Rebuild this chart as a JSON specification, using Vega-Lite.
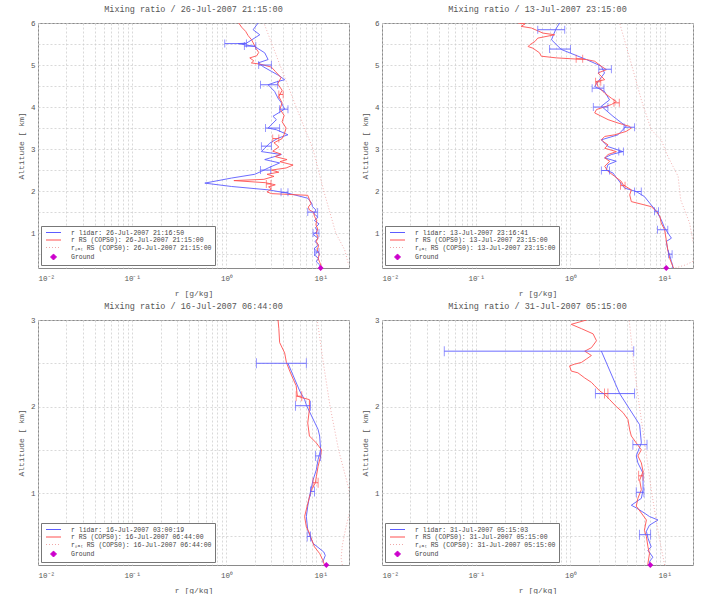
{
"$schema": "https://vega.github.io/schema/vega-lite/v6.json",
"background": "white",
"padding": {"left": 16, "top": 4, "right": 5, "bottom": 2},
"columns": 2,
"spacing": {"row": 3, "column": 10},
"resolve": {"scale": {"color": "independent"}, "legend": {"color": "independent"}},
"config": {
 "font": "Liberation Mono",
 "view": {"stroke": "#8a8a8a"},
 "title": {"font": "Liberation Mono", "fontSize": 8.5, "fontWeight": "normal", "color": "#555", "offset": 6},
 "axis": {"labelFont": "Liberation Mono", "titleFont": "Liberation Mono", "labelFontSize": 7.5, "titleFontSize": 8, "titleFontWeight": "normal", "labelColor": "#555", "titleColor": "#555", "domain": false, "ticks": false, "gridColor": "#cfcfcf", "gridDash": [2, 2], "gridWidth": 0.8, "labelOverlap": false},
 "axisX": {"titlePadding": 8, "labelPadding": 6},
 "axisY": {"titlePadding": 5, "labelPadding": 3},
 "legend": {"labelFont": "Liberation Mono", "labelFontSize": 6.5, "labelColor": "#444", "symbolType": "stroke", "symbolSize": 36, "symbolStrokeWidth": 1, "rowPadding": 0.5, "padding": 3, "strokeColor": "#777", "fillColor": "white", "labelLimit": 300, "offset": 3, "labelOffset": 14, "symbolOffset": 6}
},
"datasets": {
 "prof": [
  {"p":1,"s":"L","alt":0.17,"r":10.0},{"p":1,"s":"L","alt":0.25,"r":9.7},{"p":1,"s":"L","alt":0.32,"r":9.0},{"p":1,"s":"L","alt":0.40,"r":9.5},{"p":1,"s":"L","alt":0.48,"r":8.6},{"p":1,"s":"L","alt":0.55,"r":9.3},{"p":1,"s":"L","alt":0.63,"r":8.5},{"p":1,"s":"L","alt":0.72,"r":9.5},{"p":1,"s":"L","alt":0.80,"r":8.7},{"p":1,"s":"L","alt":0.88,"r":9.4},{"p":1,"s":"L","alt":0.96,"r":8.4},{"p":1,"s":"L","alt":1.05,"r":9.2},{"p":1,"s":"L","alt":1.13,"r":8.8},{"p":1,"s":"L","alt":1.22,"r":9.6},{"p":1,"s":"L","alt":1.30,"r":8.6},{"p":1,"s":"L","alt":1.38,"r":9.4},{"p":1,"s":"L","alt":1.46,"r":8.5},{"p":1,"s":"L","alt":1.55,"r":8.9},{"p":1,"s":"L","alt":1.63,"r":8.2},{"p":1,"s":"L","alt":1.72,"r":8.0},{"p":1,"s":"L","alt":1.83,"r":7.3},{"p":1,"s":"L","alt":1.95,"r":4.5},{"p":1,"s":"L","alt":2.03,"r":2.77},{"p":1,"s":"L","alt":2.11,"r":1.13},{"p":1,"s":"L","alt":2.19,"r":0.59},{"p":1,"s":"L","alt":2.31,"r":1.13},{"p":1,"s":"L","alt":2.40,"r":2.0},{"p":1,"s":"L","alt":2.47,"r":2.35},{"p":1,"s":"L","alt":2.55,"r":2.77},{"p":1,"s":"L","alt":2.67,"r":3.67},{"p":1,"s":"L","alt":2.75,"r":2.55},{"p":1,"s":"L","alt":2.87,"r":3.83},{"p":1,"s":"L","alt":2.94,"r":2.35},{"p":1,"s":"L","alt":3.02,"r":2.55},{"p":1,"s":"L","alt":3.14,"r":2.88},{"p":1,"s":"L","alt":3.26,"r":3.53},{"p":1,"s":"L","alt":3.34,"r":4.5},{"p":1,"s":"L","alt":3.46,"r":3.39},{"p":1,"s":"L","alt":3.50,"r":2.77},{"p":1,"s":"L","alt":3.70,"r":3.39},{"p":1,"s":"L","alt":3.78,"r":3.12},{"p":1,"s":"L","alt":3.95,"r":4.15},{"p":1,"s":"L","alt":4.10,"r":3.83},{"p":1,"s":"L","alt":4.21,"r":3.53},{"p":1,"s":"L","alt":4.37,"r":3.25},{"p":1,"s":"L","alt":4.53,"r":2.77},{"p":1,"s":"L","alt":4.60,"r":3.4},{"p":1,"s":"L","alt":4.65,"r":4.15},{"p":1,"s":"L","alt":4.75,"r":3.6},{"p":1,"s":"L","alt":4.85,"r":3.0},{"p":1,"s":"L","alt":4.95,"r":2.5},{"p":1,"s":"L","alt":5.05,"r":2.17},{"p":1,"s":"L","alt":5.13,"r":2.77},{"p":1,"s":"L","alt":5.29,"r":2.55},{"p":1,"s":"L","alt":5.44,"r":2.0},{"p":1,"s":"L","alt":5.51,"r":1.33},{"p":1,"s":"L","alt":5.52,"r":1.63},{"p":1,"s":"L","alt":5.72,"r":2.26},{"p":1,"s":"L","alt":5.84,"r":1.92},{"p":1,"s":"L","alt":6.0,"r":2.17},
  {"p":1,"s":"R","alt":0.17,"r":10.3},{"p":1,"s":"R","alt":0.30,"r":9.8},{"p":1,"s":"R","alt":0.40,"r":9.4},{"p":1,"s":"R","alt":0.50,"r":9.7},{"p":1,"s":"R","alt":0.60,"r":9.2},{"p":1,"s":"R","alt":0.70,"r":9.5},{"p":1,"s":"R","alt":0.80,"r":9.0},{"p":1,"s":"R","alt":0.90,"r":9.4},{"p":1,"s":"R","alt":1.00,"r":9.0},{"p":1,"s":"R","alt":1.10,"r":9.3},{"p":1,"s":"R","alt":1.20,"r":8.9},{"p":1,"s":"R","alt":1.30,"r":9.1},{"p":1,"s":"R","alt":1.40,"r":8.6},{"p":1,"s":"R","alt":1.50,"r":8.4},{"p":1,"s":"R","alt":1.55,"r":7.6},{"p":1,"s":"R","alt":1.62,"r":7.4},{"p":1,"s":"R","alt":1.70,"r":7.9},{"p":1,"s":"R","alt":1.80,"r":7.6},{"p":1,"s":"R","alt":1.90,"r":7.3},{"p":1,"s":"R","alt":1.94,"r":3.0},{"p":1,"s":"R","alt":1.98,"r":2.7},{"p":1,"s":"R","alt":2.05,"r":3.0},{"p":1,"s":"R","alt":2.10,"r":2.8},{"p":1,"s":"R","alt":2.15,"r":3.3},{"p":1,"s":"R","alt":2.20,"r":2.6},{"p":1,"s":"R","alt":2.25,"r":1.2},{"p":1,"s":"R","alt":2.28,"r":2.5},{"p":1,"s":"R","alt":2.35,"r":3.2},{"p":1,"s":"R","alt":2.40,"r":2.7},{"p":1,"s":"R","alt":2.45,"r":3.6},{"p":1,"s":"R","alt":2.50,"r":3.0},{"p":1,"s":"R","alt":2.55,"r":4.3},{"p":1,"s":"R","alt":2.62,"r":5.1},{"p":1,"s":"R","alt":2.70,"r":3.7},{"p":1,"s":"R","alt":2.75,"r":4.4},{"p":1,"s":"R","alt":2.82,"r":3.3},{"p":1,"s":"R","alt":2.88,"r":3.8},{"p":1,"s":"R","alt":2.95,"r":3.1},{"p":1,"s":"R","alt":3.05,"r":3.6},{"p":1,"s":"R","alt":3.15,"r":3.2},{"p":1,"s":"R","alt":3.25,"r":3.9},{"p":1,"s":"R","alt":3.35,"r":4.1},{"p":1,"s":"R","alt":3.50,"r":4.3},{"p":1,"s":"R","alt":3.65,"r":3.9},{"p":1,"s":"R","alt":3.80,"r":4.1},{"p":1,"s":"R","alt":3.95,"r":3.7},{"p":1,"s":"R","alt":4.10,"r":3.9},{"p":1,"s":"R","alt":4.25,"r":3.6},{"p":1,"s":"R","alt":4.40,"r":3.9},{"p":1,"s":"R","alt":4.55,"r":3.5},{"p":1,"s":"R","alt":4.70,"r":3.8},{"p":1,"s":"R","alt":4.85,"r":3.3},{"p":1,"s":"R","alt":4.95,"r":3.0},{"p":1,"s":"R","alt":5.02,"r":2.3},{"p":1,"s":"R","alt":5.05,"r":1.84},{"p":1,"s":"R","alt":5.10,"r":1.95},{"p":1,"s":"R","alt":5.17,"r":1.77},{"p":1,"s":"R","alt":5.22,"r":2.1},{"p":1,"s":"R","alt":5.30,"r":2.2},{"p":1,"s":"R","alt":5.40,"r":2.05},{"p":1,"s":"R","alt":5.50,"r":1.95},{"p":1,"s":"R","alt":5.60,"r":1.85},{"p":1,"s":"R","alt":5.70,"r":1.7},{"p":1,"s":"R","alt":5.80,"r":1.6},{"p":1,"s":"R","alt":5.90,"r":1.45},{"p":1,"s":"R","alt":6.0,"r":1.35},
  {"p":1,"s":"S","alt":0.17,"r":21},{"p":1,"s":"S","alt":0.3,"r":19.5},{"p":1,"s":"S","alt":0.6,"r":18},{"p":1,"s":"S","alt":1.0,"r":14.5},{"p":1,"s":"S","alt":2.0,"r":10.8},{"p":1,"s":"S","alt":3.0,"r":8.3},{"p":1,"s":"S","alt":4.0,"r":5.5},{"p":1,"s":"S","alt":5.0,"r":3.7},{"p":1,"s":"S","alt":6.0,"r":2.5},
  {"p":2,"s":"L","alt":0.17,"r":12.0},{"p":2,"s":"L","alt":0.22,"r":12.2},{"p":2,"s":"L","alt":0.325,"r":11.8},{"p":2,"s":"L","alt":0.48,"r":11.3},{"p":2,"s":"L","alt":0.6,"r":10.8},{"p":2,"s":"L","alt":0.8,"r":10.4},{"p":2,"s":"L","alt":0.88,"r":11.8},{"p":2,"s":"L","alt":1.12,"r":10.0},{"p":2,"s":"L","alt":1.32,"r":9.2},{"p":2,"s":"L","alt":1.52,"r":8.2},{"p":2,"s":"L","alt":1.67,"r":7.2},{"p":2,"s":"L","alt":1.87,"r":6.1},{"p":2,"s":"L","alt":1.99,"r":5.0},{"p":2,"s":"L","alt":2.07,"r":3.77},{"p":2,"s":"L","alt":2.27,"r":3.2},{"p":2,"s":"L","alt":2.43,"r":2.83},{"p":2,"s":"L","alt":2.5,"r":2.4},{"p":2,"s":"L","alt":2.63,"r":2.5},{"p":2,"s":"L","alt":2.71,"r":3.07},{"p":2,"s":"L","alt":2.79,"r":2.31},{"p":2,"s":"L","alt":2.87,"r":2.72},{"p":2,"s":"L","alt":2.94,"r":3.6},{"p":2,"s":"L","alt":3.06,"r":2.5},{"p":2,"s":"L","alt":3.22,"r":2.13},{"p":2,"s":"L","alt":3.34,"r":3.2},{"p":2,"s":"L","alt":3.54,"r":3.9},{"p":2,"s":"L","alt":3.78,"r":2.83},{"p":2,"s":"L","alt":4.02,"r":2.13},{"p":2,"s":"L","alt":4.17,"r":2.6},{"p":2,"s":"L","alt":4.37,"r":2.3},{"p":2,"s":"L","alt":4.49,"r":1.81},{"p":2,"s":"L","alt":4.61,"r":1.97},{"p":2,"s":"L","alt":4.81,"r":2.3},{"p":2,"s":"L","alt":4.97,"r":2.13},{"p":2,"s":"L","alt":5.13,"r":1.48},{"p":2,"s":"L","alt":5.37,"r":0.80},{"p":2,"s":"L","alt":5.6,"r":0.63},{"p":2,"s":"L","alt":5.72,"r":0.66},{"p":2,"s":"L","alt":5.88,"r":0.71},{"p":2,"s":"L","alt":6.0,"r":0.77},
  {"p":2,"s":"R","alt":0.17,"r":12.5},{"p":2,"s":"R","alt":0.21,"r":12.2},{"p":2,"s":"R","alt":0.40,"r":11.3},{"p":2,"s":"R","alt":0.60,"r":10.8},{"p":2,"s":"R","alt":0.84,"r":10.4},{"p":2,"s":"R","alt":1.08,"r":10.0},{"p":2,"s":"R","alt":1.24,"r":9.2},{"p":2,"s":"R","alt":1.40,"r":8.9},{"p":2,"s":"R","alt":1.52,"r":8.2},{"p":2,"s":"R","alt":1.63,"r":7.2},{"p":2,"s":"R","alt":1.67,"r":6.14},{"p":2,"s":"R","alt":1.75,"r":4.43},{"p":2,"s":"R","alt":1.91,"r":4.26},{"p":2,"s":"R","alt":2.03,"r":4.43},{"p":2,"s":"R","alt":2.15,"r":3.62},{"p":2,"s":"R","alt":2.23,"r":3.47},{"p":2,"s":"R","alt":2.35,"r":2.95},{"p":2,"s":"R","alt":2.47,"r":2.51},{"p":2,"s":"R","alt":2.59,"r":2.31},{"p":2,"s":"R","alt":2.71,"r":2.61},{"p":2,"s":"R","alt":2.79,"r":2.31},{"p":2,"s":"R","alt":2.87,"r":2.51},{"p":2,"s":"R","alt":2.94,"r":3.07},{"p":2,"s":"R","alt":3.02,"r":2.31},{"p":2,"s":"R","alt":3.10,"r":2.51},{"p":2,"s":"R","alt":3.18,"r":2.22},{"p":2,"s":"R","alt":3.22,"r":2.13},{"p":2,"s":"R","alt":3.30,"r":2.31},{"p":2,"s":"R","alt":3.34,"r":2.95},{"p":2,"s":"R","alt":3.42,"r":3.9},{"p":2,"s":"R","alt":3.50,"r":4.43},{"p":2,"s":"R","alt":3.54,"r":4.26},{"p":2,"s":"R","alt":3.62,"r":3.2},{"p":2,"s":"R","alt":3.70,"r":2.51},{"p":2,"s":"R","alt":3.86,"r":1.81},{"p":2,"s":"R","alt":3.94,"r":1.89},{"p":2,"s":"R","alt":4.06,"r":2.72},{"p":2,"s":"R","alt":4.13,"r":3.07},{"p":2,"s":"R","alt":4.21,"r":2.72},{"p":2,"s":"R","alt":4.33,"r":2.31},{"p":2,"s":"R","alt":4.49,"r":1.96},{"p":2,"s":"R","alt":4.61,"r":1.89},{"p":2,"s":"R","alt":4.65,"r":2.31},{"p":2,"s":"R","alt":4.81,"r":1.96},{"p":2,"s":"R","alt":4.89,"r":2.41},{"p":2,"s":"R","alt":4.97,"r":2.13},{"p":2,"s":"R","alt":5.09,"r":1.81},{"p":2,"s":"R","alt":5.13,"r":1.48},{"p":2,"s":"R","alt":5.14,"r":1.2},{"p":2,"s":"R","alt":5.17,"r":0.71},{"p":2,"s":"R","alt":5.21,"r":0.49},{"p":2,"s":"R","alt":5.29,"r":0.47},{"p":2,"s":"R","alt":5.40,"r":0.40},{"p":2,"s":"R","alt":5.44,"r":0.356},{"p":2,"s":"R","alt":5.48,"r":0.37},{"p":2,"s":"R","alt":5.56,"r":0.42},{"p":2,"s":"R","alt":5.64,"r":0.45},{"p":2,"s":"R","alt":5.72,"r":0.68},{"p":2,"s":"R","alt":5.76,"r":0.51},{"p":2,"s":"R","alt":5.88,"r":0.386},{"p":2,"s":"R","alt":5.92,"r":0.30},{"p":2,"s":"R","alt":5.98,"r":0.33},{"p":2,"s":"R","alt":6.0,"r":0.279},
  {"p":2,"s":"S","alt":0.17,"r":13},{"p":2,"s":"S","alt":0.25,"r":17},{"p":2,"s":"S","alt":0.33,"r":20},{"p":2,"s":"S","alt":0.6,"r":20.8},{"p":2,"s":"S","alt":1.24,"r":18.4},{"p":2,"s":"S","alt":1.79,"r":14.8},{"p":2,"s":"S","alt":2.35,"r":13.9},{"p":2,"s":"S","alt":2.83,"r":10.8},{"p":2,"s":"S","alt":3.22,"r":9.2},{"p":2,"s":"S","alt":3.46,"r":7.2},{"p":2,"s":"S","alt":4.17,"r":5.66},{"p":2,"s":"S","alt":5.05,"r":4.4},{"p":2,"s":"S","alt":6.0,"r":3.33},
  {"p":3,"s":"L","alt":0.2,"r":10.5},{"p":3,"s":"L","alt":0.28,"r":11.2},{"p":3,"s":"L","alt":0.32,"r":10.8},{"p":3,"s":"L","alt":0.42,"r":8.3},{"p":3,"s":"L","alt":0.57,"r":7.3},{"p":3,"s":"L","alt":0.73,"r":7.05},{"p":3,"s":"L","alt":0.85,"r":7.3},{"p":3,"s":"L","alt":0.96,"r":7.6},{"p":3,"s":"L","alt":1.15,"r":8.3},{"p":3,"s":"L","alt":1.27,"r":9.0},{"p":3,"s":"L","alt":1.39,"r":9.4},{"p":3,"s":"L","alt":1.5,"r":10.0},{"p":3,"s":"L","alt":1.66,"r":9.76},{"p":3,"s":"L","alt":1.735,"r":9.4},{"p":3,"s":"L","alt":2.01,"r":7.1},{"p":3,"s":"L","alt":2.08,"r":6.76},{"p":3,"s":"L","alt":2.18,"r":6.0},{"p":3,"s":"L","alt":2.5,"r":4.5},
  {"p":3,"s":"R","alt":0.17,"r":11.0},{"p":3,"s":"R","alt":0.23,"r":10.5},{"p":3,"s":"R","alt":0.30,"r":9.8},{"p":3,"s":"R","alt":0.38,"r":8.6},{"p":3,"s":"R","alt":0.50,"r":7.8},{"p":3,"s":"R","alt":0.54,"r":7.6},{"p":3,"s":"R","alt":0.61,"r":7.05},{"p":3,"s":"R","alt":0.73,"r":6.76},{"p":3,"s":"R","alt":0.88,"r":7.3},{"p":3,"s":"R","alt":1.04,"r":8.0},{"p":3,"s":"R","alt":1.12,"r":8.8},{"p":3,"s":"R","alt":1.19,"r":9.0},{"p":3,"s":"R","alt":1.31,"r":9.4},{"p":3,"s":"R","alt":1.43,"r":10.0},{"p":3,"s":"R","alt":1.50,"r":10.2},{"p":3,"s":"R","alt":1.58,"r":9.0},{"p":3,"s":"R","alt":1.66,"r":7.6},{"p":3,"s":"R","alt":1.81,"r":7.3},{"p":3,"s":"R","alt":1.97,"r":7.6},{"p":3,"s":"R","alt":2.08,"r":7.6},{"p":3,"s":"R","alt":2.10,"r":6.5},{"p":3,"s":"R","alt":2.12,"r":5.66},{"p":3,"s":"R","alt":2.24,"r":5.5},{"p":3,"s":"R","alt":2.32,"r":5.1},{"p":3,"s":"R","alt":2.41,"r":4.7},{"p":3,"s":"R","alt":2.51,"r":4.33},{"p":3,"s":"R","alt":2.62,"r":4.15},{"p":3,"s":"R","alt":2.74,"r":3.67},{"p":3,"s":"R","alt":2.90,"r":3.6},{"p":3,"s":"R","alt":3.0,"r":3.53},
  {"p":3,"s":"S","alt":0.17,"r":17},{"p":3,"s":"S","alt":0.25,"r":16.5},{"p":3,"s":"S","alt":0.4,"r":17},{"p":3,"s":"S","alt":0.6,"r":18.5},{"p":3,"s":"S","alt":0.8,"r":20.5},{"p":3,"s":"S","alt":1.04,"r":20},{"p":3,"s":"S","alt":1.5,"r":15.5},{"p":3,"s":"S","alt":2.0,"r":12.6},{"p":3,"s":"S","alt":2.5,"r":10.7},{"p":3,"s":"S","alt":3.0,"r":9.2},
  {"p":4,"s":"L","alt":0.17,"r":6.9},{"p":4,"s":"L","alt":0.21,"r":6.9},{"p":4,"s":"L","alt":0.26,"r":7.5},{"p":4,"s":"L","alt":0.34,"r":6.65},{"p":4,"s":"L","alt":0.38,"r":7.2},{"p":4,"s":"L","alt":0.48,"r":6.65},{"p":4,"s":"L","alt":0.56,"r":6.4},{"p":4,"s":"L","alt":0.63,"r":6.9},{"p":4,"s":"L","alt":0.69,"r":8.5},{"p":4,"s":"L","alt":0.73,"r":6.9},{"p":4,"s":"L","alt":0.77,"r":6.1},{"p":4,"s":"L","alt":0.83,"r":5.0},{"p":4,"s":"L","alt":0.86,"r":4.43},{"p":4,"s":"L","alt":0.94,"r":5.66},{"p":4,"s":"L","alt":1.04,"r":5.9},{"p":4,"s":"L","alt":1.23,"r":5.9},{"p":4,"s":"L","alt":1.35,"r":5.2},{"p":4,"s":"L","alt":1.43,"r":5.0},{"p":4,"s":"L","alt":1.58,"r":5.66},{"p":4,"s":"L","alt":1.79,"r":5.43},{"p":4,"s":"L","alt":2.15,"r":3.33},{"p":4,"s":"L","alt":2.64,"r":2.13},
  {"p":4,"s":"R","alt":0.17,"r":6.65},{"p":4,"s":"R","alt":0.19,"r":6.65},{"p":4,"s":"R","alt":0.30,"r":6.9},{"p":4,"s":"R","alt":0.38,"r":6.65},{"p":4,"s":"R","alt":0.50,"r":6.4},{"p":4,"s":"R","alt":0.57,"r":6.1},{"p":4,"s":"R","alt":0.69,"r":6.4},{"p":4,"s":"R","alt":0.77,"r":5.66},{"p":4,"s":"R","alt":0.85,"r":5.0},{"p":4,"s":"R","alt":0.94,"r":5.2},{"p":4,"s":"R","alt":1.04,"r":5.66},{"p":4,"s":"R","alt":1.15,"r":5.43},{"p":4,"s":"R","alt":1.25,"r":5.9},{"p":4,"s":"R","alt":1.35,"r":5.66},{"p":4,"s":"R","alt":1.43,"r":5.2},{"p":4,"s":"R","alt":1.50,"r":5.66},{"p":4,"s":"R","alt":1.58,"r":5.0},{"p":4,"s":"R","alt":1.66,"r":4.43},{"p":4,"s":"R","alt":1.73,"r":4.26},{"p":4,"s":"R","alt":1.85,"r":4.08},{"p":4,"s":"R","alt":1.93,"r":3.62},{"p":4,"s":"R","alt":2.00,"r":3.07},{"p":4,"s":"R","alt":2.08,"r":2.61},{"p":4,"s":"R","alt":2.14,"r":2.31},{"p":4,"s":"R","alt":2.18,"r":2.05},{"p":4,"s":"R","alt":2.24,"r":1.81},{"p":4,"s":"R","alt":2.28,"r":1.67},{"p":4,"s":"R","alt":2.33,"r":1.42},{"p":4,"s":"R","alt":2.39,"r":1.2},{"p":4,"s":"R","alt":2.41,"r":1.02},{"p":4,"s":"R","alt":2.47,"r":0.98},{"p":4,"s":"R","alt":2.49,"r":1.11},{"p":4,"s":"R","alt":2.51,"r":1.31},{"p":4,"s":"R","alt":2.55,"r":1.48},{"p":4,"s":"R","alt":2.59,"r":1.67},{"p":4,"s":"R","alt":2.64,"r":1.42},{"p":4,"s":"R","alt":2.68,"r":1.67},{"p":4,"s":"R","alt":2.76,"r":1.89},{"p":4,"s":"R","alt":2.84,"r":1.74},{"p":4,"s":"R","alt":2.90,"r":1.31},{"p":4,"s":"R","alt":2.95,"r":1.02},{"p":4,"s":"R","alt":3.0,"r":1.48},
  {"p":4,"s":"S","alt":0.17,"r":10},{"p":4,"s":"S","alt":0.5,"r":8.7},{"p":4,"s":"S","alt":1.0,"r":7.3},{"p":4,"s":"S","alt":1.5,"r":6.3},{"p":4,"s":"S","alt":2.0,"r":5.4},{"p":4,"s":"S","alt":2.5,"r":4.7},{"p":4,"s":"S","alt":3.0,"r":4.2}
 ],
 "errs": [
  {"p":1,"s":"L","alt":5.51,"lo":0.96,"hi":1.63},{"p":1,"s":"L","alt":5.45,"lo":1.55,"hi":2.05},{"p":1,"s":"L","alt":5.0,"lo":2.2,"hi":3.0},{"p":1,"s":"L","alt":4.53,"lo":2.3,"hi":3.5},{"p":1,"s":"L","alt":3.95,"lo":3.67,"hi":4.5},{"p":1,"s":"L","alt":3.5,"lo":2.6,"hi":3.67},{"p":1,"s":"L","alt":3.07,"lo":2.35,"hi":3.0},{"p":1,"s":"L","alt":2.5,"lo":2.3,"hi":2.95},{"p":1,"s":"L","alt":1.97,"lo":3.8,"hi":4.5},{"p":1,"s":"L","alt":1.5,"lo":7.3,"hi":9.3},{"p":1,"s":"L","alt":1.0,"lo":8.3,"hi":9.6},{"p":1,"s":"L","alt":0.55,"lo":8.6,"hi":9.6},
  {"p":1,"s":"R","alt":2.17,"lo":2.65,"hi":2.97},{"p":1,"s":"R","alt":4.3,"lo":3.6,"hi":4.0},{"p":1,"s":"R","alt":3.25,"lo":3.1,"hi":3.6},
  {"p":2,"s":"L","alt":5.84,"lo":0.45,"hi":0.87},{"p":2,"s":"L","alt":5.38,"lo":0.6,"hi":1.0},{"p":2,"s":"L","alt":4.9,"lo":2.0,"hi":2.72},{"p":2,"s":"L","alt":4.45,"lo":1.7,"hi":2.27},{"p":2,"s":"L","alt":4.0,"lo":1.75,"hi":2.5},{"p":2,"s":"L","alt":3.52,"lo":3.7,"hi":4.8},{"p":2,"s":"L","alt":2.94,"lo":3.26,"hi":3.65},{"p":2,"s":"L","alt":2.49,"lo":2.13,"hi":2.6},{"p":2,"s":"L","alt":1.99,"lo":4.8,"hi":5.65},{"p":2,"s":"L","alt":1.52,"lo":7.8,"hi":8.6},{"p":2,"s":"L","alt":1.08,"lo":8.4,"hi":10.8},{"p":2,"s":"L","alt":0.5,"lo":11.0,"hi":12.0},
  {"p":2,"s":"R","alt":5.15,"lo":1.15,"hi":1.35},{"p":2,"s":"R","alt":4.6,"lo":1.85,"hi":2.1},{"p":2,"s":"R","alt":4.1,"lo":2.9,"hi":3.3},{"p":2,"s":"R","alt":2.13,"lo":3.4,"hi":3.8},
  {"p":3,"s":"L","alt":2.5,"lo":2.08,"hi":7.05},{"p":3,"s":"L","alt":2.01,"lo":5.4,"hi":7.8},{"p":3,"s":"L","alt":1.43,"lo":8.8,"hi":10.0},{"p":3,"s":"L","alt":1.02,"lo":7.8,"hi":8.6},{"p":3,"s":"L","alt":0.5,"lo":7.2,"hi":7.8},
  {"p":3,"s":"R","alt":2.12,"lo":5.5,"hi":6.3},{"p":3,"s":"R","alt":1.12,"lo":8.3,"hi":9.4},
  {"p":4,"s":"L","alt":2.64,"lo":0.0458,"hi":4.7},{"p":4,"s":"L","alt":2.15,"lo":1.84,"hi":4.8},{"p":4,"s":"L","alt":1.56,"lo":4.6,"hi":6.5},{"p":4,"s":"L","alt":1.01,"lo":5.0,"hi":6.03},{"p":4,"s":"L","alt":0.52,"lo":5.4,"hi":7.1},
  {"p":4,"s":"R","alt":2.15,"lo":2.3,"hi":2.5},{"p":4,"s":"R","alt":1.2,"lo":5.3,"hi":5.9}
 ],
 "ground": [
  {"p":1,"s":"G","alt":0.17,"r":10.0},{"p":2,"s":"G","alt":0.17,"r":10.4},{"p":3,"s":"G","alt":0.17,"r":11.5},{"p":4,"s":"G","alt":0.17,"r":7.05}
 ]
},
"concat": [
 {
  "title": {"text": "Mixing ratio / 26-Jul-2007 21:15:00"},
  "width": 311, "height": 245,
  "encoding": {
   "x": {"field": "r", "type": "quantitative", "scale": {"type": "log", "domain": [0.01, 20], "nice": false}, "axis": {"title": "r [g/kg]", "values": [0.01,0.02,0.03,0.04,0.05,0.06,0.07,0.08,0.09,0.1,0.2,0.3,0.4,0.5,0.6,0.7,0.8,0.9,1,2,3,4,5,6,7,8,9,10,20], "labelExpr": "datum.value==0.01?'10⁻²':datum.value==0.1?'10⁻¹':datum.value==1?'10⁰':datum.value==10?'10¹':''"}},
   "y": {"field": "alt", "type": "quantitative", "scale": {"domain": [0.17, 6], "nice": false, "zero": false}, "axis": {"title": "Altitude [ km]", "values": [0.5,1,1.5,2,2.5,3,3.5,4,4.5,5,5.5,6], "labelExpr": "datum.value%1==0?format(datum.value,'d'):''"}},
   "color": {"field": "s", "type": "nominal", "scale": {"domain": ["L","R","S","G"], "range": ["#5c5cff","#ff5050","#f0a8a8","#cc00cc"]},
    "legend": {"orient": "bottom-left", "title": null,
     "labelExpr": "datum.value=='L'?'r lidar: 26-Jul-2007 21:16:50':datum.value=='R'?'r RS (COPS0): 26-Jul-2007 21:15:00':datum.value=='S'?'rₛₐₜ RS (COPS0): 26-Jul-2007 21:15:00':'Ground'",
     "encode": {"symbols": {"update": {"shape": {"signal": "datum.value=='G'?'diamond':'M-2.5,0H2.5'"}, "fill": {"signal": "datum.value=='G'?'#cc00cc':'transparent'"}, "strokeDash": {"signal": "datum.value=='S'?[1,2]:[1,0]"}}}}}},
   "order": {"field": "alt", "type": "quantitative"}
  },
  "layer": [
   {"data": {"name": "prof"}, "transform": [{"filter": "datum.p==1 && datum.s!='S'"}], "mark": {"type": "line", "strokeWidth": 0.9, "clip": true}},
   {"data": {"name": "prof"}, "transform": [{"filter": "datum.p==1 && datum.s=='S'"}], "mark": {"type": "line", "strokeWidth": 0.9, "strokeDash": [1, 2], "clip": true}},
   {"data": {"name": "errs"}, "transform": [{"filter": "datum.p==1"}], "mark": {"type": "rule", "strokeWidth": 0.9, "clip": true}, "encoding": {"x": {"field": "lo", "type": "quantitative"}, "x2": {"field": "hi"}}},
   {"data": {"name": "errs"}, "transform": [{"filter": "datum.p==1"}], "mark": {"type": "tick", "orient": "vertical", "size": 8, "thickness": 0.9, "clip": true}, "encoding": {"x": {"field": "lo", "type": "quantitative"}}},
   {"data": {"name": "errs"}, "transform": [{"filter": "datum.p==1"}], "mark": {"type": "tick", "orient": "vertical", "size": 8, "thickness": 0.9, "clip": true}, "encoding": {"x": {"field": "hi", "type": "quantitative"}}},
   {"data": {"name": "ground"}, "transform": [{"filter": "datum.p==1"}], "mark": {"type": "point", "shape": "diamond", "filled": true, "size": 35, "opacity": 1}}
  ]
 },
 {
  "title": {"text": "Mixing ratio / 13-Jul-2007 23:15:00"},
  "width": 311, "height": 245,
  "encoding": {
   "x": {"field": "r", "type": "quantitative", "scale": {"type": "log", "domain": [0.01, 20], "nice": false}, "axis": {"title": "r [g/kg]", "values": [0.01,0.02,0.03,0.04,0.05,0.06,0.07,0.08,0.09,0.1,0.2,0.3,0.4,0.5,0.6,0.7,0.8,0.9,1,2,3,4,5,6,7,8,9,10,20], "labelExpr": "datum.value==0.01?'10⁻²':datum.value==0.1?'10⁻¹':datum.value==1?'10⁰':datum.value==10?'10¹':''"}},
   "y": {"field": "alt", "type": "quantitative", "scale": {"domain": [0.17, 6], "nice": false, "zero": false}, "axis": {"title": "Altitude [ km]", "values": [0.5,1,1.5,2,2.5,3,3.5,4,4.5,5,5.5,6], "labelExpr": "datum.value%1==0?format(datum.value,'d'):''"}},
   "color": {"field": "s", "type": "nominal", "scale": {"domain": ["L","R","S","G"], "range": ["#5c5cff","#ff5050","#f0a8a8","#cc00cc"]},
    "legend": {"orient": "bottom-left", "title": null,
     "labelExpr": "datum.value=='L'?'r lidar: 13-Jul-2007 23:16:41':datum.value=='R'?'r RS (COPS0): 13-Jul-2007 23:15:00':datum.value=='S'?'rₛₐₜ RS (COPS0): 13-Jul-2007 23:15:00':'Ground'",
     "encode": {"symbols": {"update": {"shape": {"signal": "datum.value=='G'?'diamond':'M-2.5,0H2.5'"}, "fill": {"signal": "datum.value=='G'?'#cc00cc':'transparent'"}, "strokeDash": {"signal": "datum.value=='S'?[1,2]:[1,0]"}}}}}},
   "order": {"field": "alt", "type": "quantitative"}
  },
  "layer": [
   {"data": {"name": "prof"}, "transform": [{"filter": "datum.p==2 && datum.s!='S'"}], "mark": {"type": "line", "strokeWidth": 0.9, "clip": true}},
   {"data": {"name": "prof"}, "transform": [{"filter": "datum.p==2 && datum.s=='S'"}], "mark": {"type": "line", "strokeWidth": 0.9, "strokeDash": [1, 2], "clip": true}},
   {"data": {"name": "errs"}, "transform": [{"filter": "datum.p==2"}], "mark": {"type": "rule", "strokeWidth": 0.9, "clip": true}, "encoding": {"x": {"field": "lo", "type": "quantitative"}, "x2": {"field": "hi"}}},
   {"data": {"name": "errs"}, "transform": [{"filter": "datum.p==2"}], "mark": {"type": "tick", "orient": "vertical", "size": 8, "thickness": 0.9, "clip": true}, "encoding": {"x": {"field": "lo", "type": "quantitative"}}},
   {"data": {"name": "errs"}, "transform": [{"filter": "datum.p==2"}], "mark": {"type": "tick", "orient": "vertical", "size": 8, "thickness": 0.9, "clip": true}, "encoding": {"x": {"field": "hi", "type": "quantitative"}}},
   {"data": {"name": "ground"}, "transform": [{"filter": "datum.p==2"}], "mark": {"type": "point", "shape": "diamond", "filled": true, "size": 35, "opacity": 1}}
  ]
 },
 {
  "title": {"text": "Mixing ratio / 16-Jul-2007 06:44:00"},
  "width": 311, "height": 245,
  "encoding": {
   "x": {"field": "r", "type": "quantitative", "scale": {"type": "log", "domain": [0.01, 20], "nice": false}, "axis": {"title": "r [g/kg]", "values": [0.01,0.02,0.03,0.04,0.05,0.06,0.07,0.08,0.09,0.1,0.2,0.3,0.4,0.5,0.6,0.7,0.8,0.9,1,2,3,4,5,6,7,8,9,10,20], "labelExpr": "datum.value==0.01?'10⁻²':datum.value==0.1?'10⁻¹':datum.value==1?'10⁰':datum.value==10?'10¹':''"}},
   "y": {"field": "alt", "type": "quantitative", "scale": {"domain": [0.17, 3], "nice": false, "zero": false}, "axis": {"title": "Altitude [ km]", "values": [0.5,1,1.5,2,2.5,3], "labelExpr": "datum.value%1==0?format(datum.value,'d'):''"}},
   "color": {"field": "s", "type": "nominal", "scale": {"domain": ["L","R","S","G"], "range": ["#5c5cff","#ff5050","#f0a8a8","#cc00cc"]},
    "legend": {"orient": "bottom-left", "title": null,
     "labelExpr": "datum.value=='L'?'r lidar: 16-Jul-2007 03:00:19':datum.value=='R'?'r RS (COPS0): 16-Jul-2007 06:44:00':datum.value=='S'?'rₛₐₜ RS (COPS0): 16-Jul-2007 06:44:00':'Ground'",
     "encode": {"symbols": {"update": {"shape": {"signal": "datum.value=='G'?'diamond':'M-2.5,0H2.5'"}, "fill": {"signal": "datum.value=='G'?'#cc00cc':'transparent'"}, "strokeDash": {"signal": "datum.value=='S'?[1,2]:[1,0]"}}}}}},
   "order": {"field": "alt", "type": "quantitative"}
  },
  "layer": [
   {"data": {"name": "prof"}, "transform": [{"filter": "datum.p==3 && datum.s!='S'"}], "mark": {"type": "line", "strokeWidth": 0.9, "clip": true}},
   {"data": {"name": "prof"}, "transform": [{"filter": "datum.p==3 && datum.s=='S'"}], "mark": {"type": "line", "strokeWidth": 0.9, "strokeDash": [1, 2], "clip": true}},
   {"data": {"name": "errs"}, "transform": [{"filter": "datum.p==3"}], "mark": {"type": "rule", "strokeWidth": 0.9, "clip": true}, "encoding": {"x": {"field": "lo", "type": "quantitative"}, "x2": {"field": "hi"}}},
   {"data": {"name": "errs"}, "transform": [{"filter": "datum.p==3"}], "mark": {"type": "tick", "orient": "vertical", "size": 10, "thickness": 0.9, "clip": true}, "encoding": {"x": {"field": "lo", "type": "quantitative"}}},
   {"data": {"name": "errs"}, "transform": [{"filter": "datum.p==3"}], "mark": {"type": "tick", "orient": "vertical", "size": 10, "thickness": 0.9, "clip": true}, "encoding": {"x": {"field": "hi", "type": "quantitative"}}},
   {"data": {"name": "ground"}, "transform": [{"filter": "datum.p==3"}], "mark": {"type": "point", "shape": "diamond", "filled": true, "size": 35, "opacity": 1}}
  ]
 },
 {
  "title": {"text": "Mixing ratio / 31-Jul-2007 05:15:00"},
  "width": 311, "height": 245,
  "encoding": {
   "x": {"field": "r", "type": "quantitative", "scale": {"type": "log", "domain": [0.01, 20], "nice": false}, "axis": {"title": "r [g/kg]", "values": [0.01,0.02,0.03,0.04,0.05,0.06,0.07,0.08,0.09,0.1,0.2,0.3,0.4,0.5,0.6,0.7,0.8,0.9,1,2,3,4,5,6,7,8,9,10,20], "labelExpr": "datum.value==0.01?'10⁻²':datum.value==0.1?'10⁻¹':datum.value==1?'10⁰':datum.value==10?'10¹':''"}},
   "y": {"field": "alt", "type": "quantitative", "scale": {"domain": [0.17, 3], "nice": false, "zero": false}, "axis": {"title": "Altitude [ km]", "values": [0.5,1,1.5,2,2.5,3], "labelExpr": "datum.value%1==0?format(datum.value,'d'):''"}},
   "color": {"field": "s", "type": "nominal", "scale": {"domain": ["L","R","S","G"], "range": ["#5c5cff","#ff5050","#f0a8a8","#cc00cc"]},
    "legend": {"orient": "bottom-left", "title": null,
     "labelExpr": "datum.value=='L'?'r lidar: 31-Jul-2007 05:15:03':datum.value=='R'?'r RS (COPS0): 31-Jul-2007 05:15:00':datum.value=='S'?'rₛₐₜ RS (COPS0): 31-Jul-2007 05:15:00':'Ground'",
     "encode": {"symbols": {"update": {"shape": {"signal": "datum.value=='G'?'diamond':'M-2.5,0H2.5'"}, "fill": {"signal": "datum.value=='G'?'#cc00cc':'transparent'"}, "strokeDash": {"signal": "datum.value=='S'?[1,2]:[1,0]"}}}}}},
   "order": {"field": "alt", "type": "quantitative"}
  },
  "layer": [
   {"data": {"name": "prof"}, "transform": [{"filter": "datum.p==4 && datum.s!='S'"}], "mark": {"type": "line", "strokeWidth": 0.9, "clip": true}},
   {"data": {"name": "prof"}, "transform": [{"filter": "datum.p==4 && datum.s=='S'"}], "mark": {"type": "line", "strokeWidth": 0.9, "strokeDash": [1, 2], "clip": true}},
   {"data": {"name": "errs"}, "transform": [{"filter": "datum.p==4"}], "mark": {"type": "rule", "strokeWidth": 0.9, "clip": true}, "encoding": {"x": {"field": "lo", "type": "quantitative"}, "x2": {"field": "hi"}}},
   {"data": {"name": "errs"}, "transform": [{"filter": "datum.p==4"}], "mark": {"type": "tick", "orient": "vertical", "size": 10, "thickness": 0.9, "clip": true}, "encoding": {"x": {"field": "lo", "type": "quantitative"}}},
   {"data": {"name": "errs"}, "transform": [{"filter": "datum.p==4"}], "mark": {"type": "tick", "orient": "vertical", "size": 10, "thickness": 0.9, "clip": true}, "encoding": {"x": {"field": "hi", "type": "quantitative"}}},
   {"data": {"name": "ground"}, "transform": [{"filter": "datum.p==4"}], "mark": {"type": "point", "shape": "diamond", "filled": true, "size": 35, "opacity": 1}}
  ]
 }
]
}
